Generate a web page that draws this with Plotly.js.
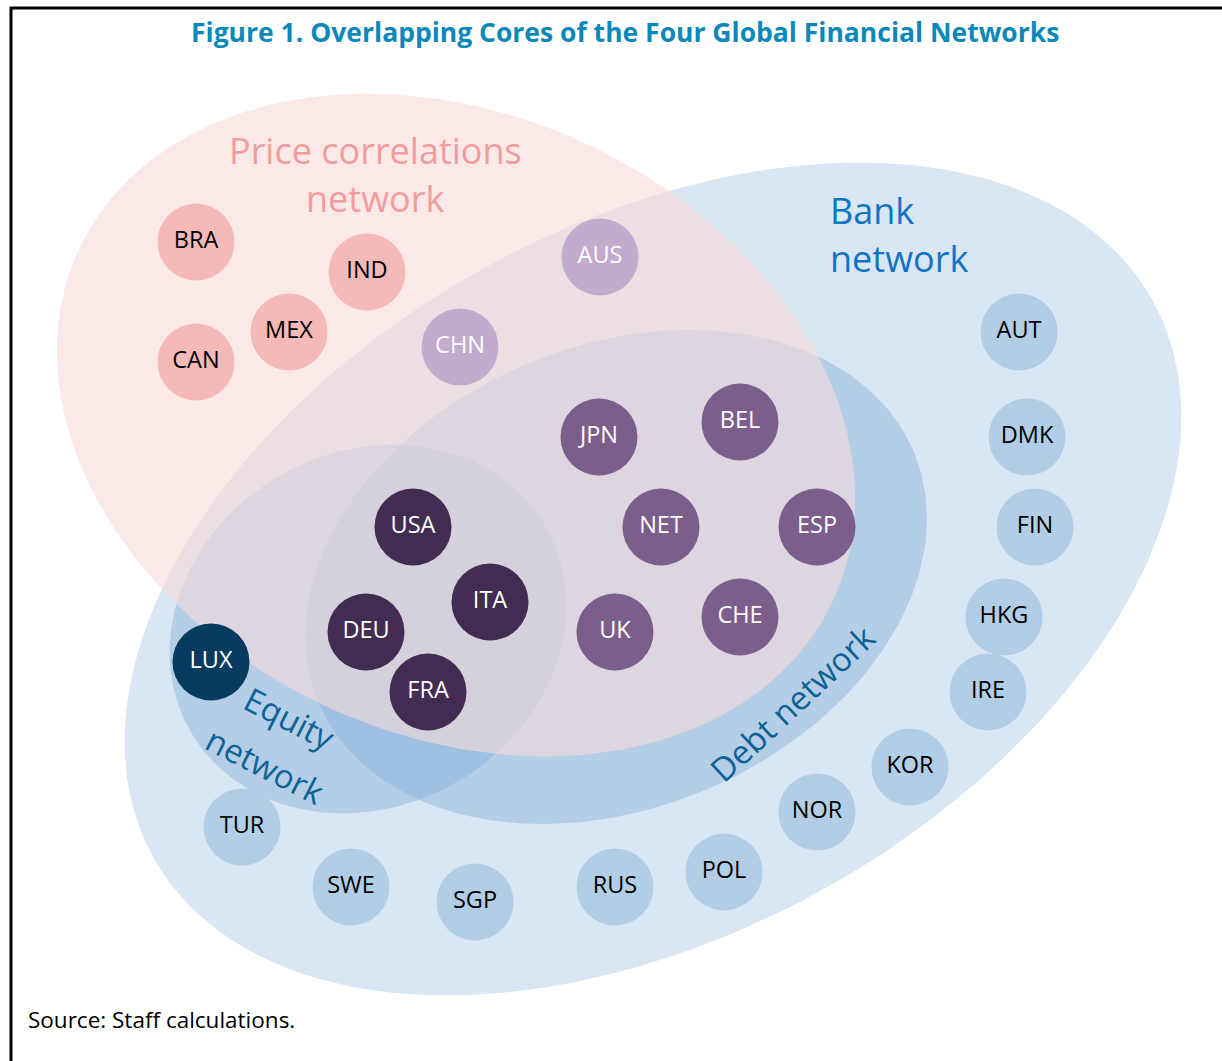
<!DOCTYPE html>
<html>
<head>
<meta charset="utf-8">
<script src="https://cdn.plot.ly/plotly-3.0.1.min.js"></script>
<style>html,body{margin:0;padding:0;background:#fff;}#chart{width:1222px;height:1061px;}</style>
</head>
<body>
<div id="chart"></div>
<script>
// ---- Data ----
const countries = ["BRA","IND","MEX","CAN","AUS","CHN","JPN","BEL","NET","ESP","UK","CHE","USA","ITA","DEU","FRA","LUX","AUT","DMK","FIN","HKG","IRE","KOR","NOR","POL","RUS","SGP","SWE","TUR"];
const posX = [196,367,289,196,600,460,599,740,661,817,615,740,413,490,366,428,211,1019,1027,1035,1004,988,910,817,724,615,475,351,242];
const posY = [242,272,332,362,257,347,437,422,527,527,632,617,527,602,632,692,662,332,437,527,617,692,767,812,872,887,902,887,827];
const groups = ["price","price","price","price","pricebank","pricebank","core3","core3","core3","core3","core3","core3","core4","core4","core4","core4","equity","bank","bank","bank","bank","bank","bank","bank","bank","bank","bank","bank","bank"];

// network ellipses: centre, semi-axes, tilt (deg, positive = rising to the right)
const netNames = ["Bank network","Debt network","Equity network","Price correlations network"];
const netCX = [653,616,368,456];
const netCY = [579,577,629,425];
const netA  = [572,323,205,416];
const netB  = [354,231,177,310];
const netTilt = [29.2,22.8,30,-25];

const titleText = "Figure 1. Overlapping Cores of the Four Global Financial Networks";
const sourceText = "Source: Staff calculations.";

// ---- Styles ----
const netFill = ["rgba(128,173,216,0.30)","rgba(128,173,216,0.42)","rgba(128,173,216,0.42)","rgba(248,218,217,0.60)"];
const groupFill = {price:"#f5b9b8", pricebank:"#c2abcd", core3:"#7b5e8b", core4:"#432c52", equity:"#053b5e", bank:"#b2cde6"};
const groupText = {price:"#000000", pricebank:"#ffffff", core3:"#ffffff", core4:"#ffffff", equity:"#ffffff", bank:"#000000"};
const FONT = "Open Sans, Noto Sans, sans-serif";

function ellipse(cx, cy, a, b, tiltDeg) {
  const th = tiltDeg * Math.PI / 180, xs = [], ys = [];
  for (let i = 0; i <= 240; i++) {
    const t = 2 * Math.PI * i / 240;
    xs.push(cx + a * Math.cos(t) * Math.cos(th) + b * Math.sin(t) * Math.sin(th));
    ys.push(cy - a * Math.cos(t) * Math.sin(th) + b * Math.sin(t) * Math.cos(th));
  }
  return {xs, ys};
}

const traces = [];
netNames.forEach((n, i) => {
  const e = ellipse(netCX[i], netCY[i], netA[i], netB[i], netTilt[i]);
  traces.push({type:"scatter", mode:"lines", x:e.xs, y:e.ys, fill:"toself",
    fillcolor:netFill[i], line:{width:0, color:"rgba(0,0,0,0)"}, name:n, hoverinfo:"skip"});
});

traces.push({
  type:"scatter", mode:"markers+text", x:posX, y:posY, text:countries,
  textposition:"middle center",
  marker:{size:77, color:groups.map(g => groupFill[g]), line:{width:0}},
  textfont:{family:FONT, size:23.5, color:groups.map(g => groupText[g])},
  hoverinfo:"skip"
});

const blueLbl = "#0e6394";
const annotations = [
  {text:"<b>"+titleText+"</b>", x:625, y:32, font:{family:FONT, size:26.5, color:"#0b88b9"}},
  {text:"Price correlations", x:375, y:150, font:{family:FONT, size:36, color:"#f29c9c"}},
  {text:"network", x:375, y:198, font:{family:FONT, size:36, color:"#f29c9c"}},
  {text:"Bank", x:828, y:210, xanchor:"left", font:{family:FONT, size:36, color:"#1173c6"}},
  {text:"network", x:828, y:258, xanchor:"left", font:{family:FONT, size:36, color:"#1173c6"}},
  {text:"Equity", x:290, y:718, textangle:27, font:{family:FONT, size:33, color:blueLbl}},
  {text:"network", x:265, y:765, textangle:27, font:{family:FONT, size:33, color:blueLbl}},
  {text:"Debt network", x:792, y:703, textangle:-43, font:{family:FONT, size:33, color:blueLbl}},
  {text:sourceText, x:26, y:1019, xanchor:"left", font:{family:FONT, size:22.5, color:"#000000"}}
].map(a => Object.assign({xref:"x", yref:"y", showarrow:false, xanchor:"center", yanchor:"middle"}, a));

const layout = {
  width:1222, height:1061, margin:{l:0,r:0,t:0,b:0},
  paper_bgcolor:"#ffffff", plot_bgcolor:"#ffffff", showlegend:false, hovermode:false,
  xaxis:{range:[0,1222], visible:false, fixedrange:true},
  yaxis:{range:[1061,0], visible:false, fixedrange:true},
  annotations:annotations,
  shapes:[
    {type:"line", xref:"x", yref:"y", x0:10, y0:8, x1:1222, y1:8, line:{color:"#000", width:3}},
    {type:"line", xref:"x", yref:"y", x0:11, y0:7, x1:11, y1:1061, line:{color:"#000", width:3}}
  ]
};

Plotly.newPlot("chart", traces, layout, {staticPlot:true, displayModeBar:false});
</script>
</body>
</html>
